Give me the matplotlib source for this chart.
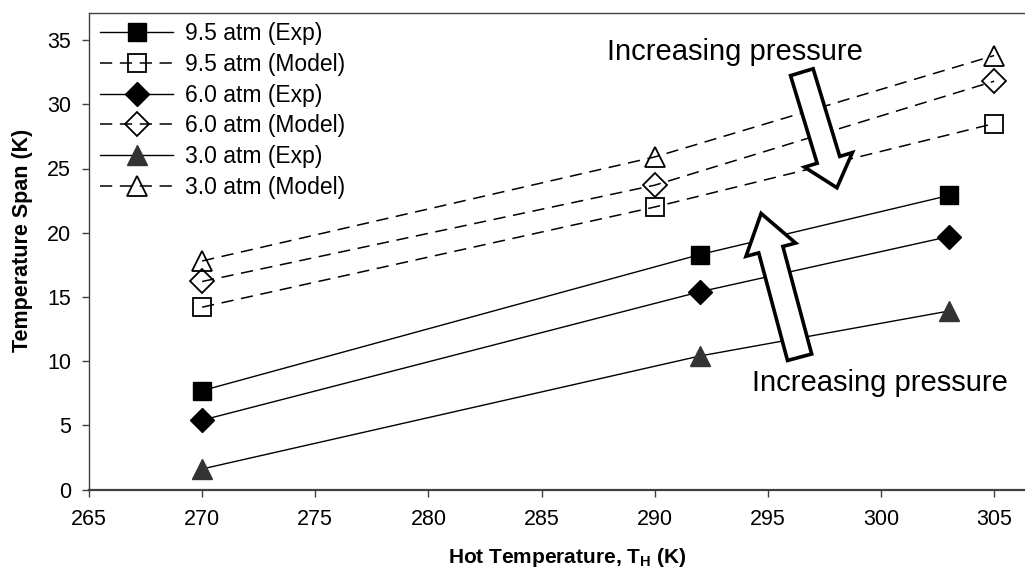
import matplotlib
matplotlib.use('Agg')
import matplotlib.pyplot as plt
from matplotlib.patches import FancyArrowPatch
from matplotlib.patches import ArrowStyle

# ---------------- data ----------------
temps_exp = [270, 292, 303]
temps_model = [270, 290, 305]
exp_95 = [7.7, 18.3, 22.9]
exp_60 = [5.4, 15.4, 19.7]
exp_30 = [1.6, 10.4, 13.9]
model_95 = [14.2, 22.0, 28.5]
model_60 = [16.2, 23.7, 31.8]
model_30 = [17.8, 25.9, 33.8]
series_labels = ['9.5 atm (Exp)', '9.5 atm (Model)', '6.0 atm (Exp)',
                 '6.0 atm (Model)', '3.0 atm (Exp)', '3.0 atm (Model)']
xticks = [265, 270, 275, 280, 285, 290, 295, 300, 305]
yticks = [0, 5, 10, 15, 20, 25, 30, 35]
annot_text = 'Increasing pressure'
xlabel = 'Hot Temperature, T$_\\mathregular{H}$ (K)'
ylabel = 'Temperature Span (K)'

# ---------------- figure ----------------
plt.rcParams['font.family'] = ['Liberation Sans', 'DejaVu Sans']
plt.rcParams['mathtext.fontset'] = 'custom'
plt.rcParams['mathtext.rm'] = 'Liberation Sans:bold'
W, H = 1025, 574
fig = plt.figure(figsize=(W / 100, H / 100), dpi=100)

left, right, top, bottom = 89, 1025, 13, 489.5
ax = fig.add_axes([left / W, 1 - bottom / H, (right - left) / W, (bottom - top) / H])
px_per_x = 22.63
px_per_y = 12.84
ax.set_xlim(265, 265 + (right - left) / px_per_x)
ax.set_ylim(0, (bottom - top) / px_per_y)

solid = dict(color='black', lw=1.0, ls='-')
dash = dict(color='black', lw=1.1, ls=(0, (8, 5)))
mew = 1.3

l1, = ax.plot(temps_exp, exp_95, marker='s', ms=13.5, mfc='black', mec='black', **solid)
l2, = ax.plot(temps_model, model_95, marker='s', ms=13, mfc='none', mec='black', mew=mew, **dash)
l3, = ax.plot(temps_exp, exp_60, marker='D', ms=12.5, mfc='black', mec='black', **solid)
l4, = ax.plot(temps_model, model_60, marker='D', ms=12, mfc='none', mec='black', mew=mew, **dash)
l5, = ax.plot(temps_exp, exp_30, marker='^', ms=14.5, mfc='#333333', mec='#333333', **solid)
l6, = ax.plot(temps_model, model_30, marker='^', ms=14, mfc='none', mec='black', mew=mew, **dash)
for l in (l1, l2, l3, l4, l5, l6):
    l.set_clip_on(False)

# legend
leg = fig.legend([l1, l2, l3, l4, l5, l6], series_labels,
                 loc='upper left', bbox_to_anchor=(100 / W, 1 - 22 / H),
                 frameon=False, fontsize=16.5, borderpad=0, borderaxespad=0,
                 handlelength=3.2, handletextpad=0.5, labelspacing=0.34, numpoints=1)

# spines / ticks
for s in ('left', 'top'):
    ax.spines[s].set_color('#404040')
    ax.spines[s].set_linewidth(1.0)
ax.spines['bottom'].set_color('#404040')
ax.spines['bottom'].set_linewidth(1.6)
ax.spines['right'].set_visible(False)
ax.set_xticks(xticks)
ax.set_yticks(yticks)
ax.tick_params(axis='both', direction='out', length=5, width=1, color='#404040',
               labelsize=15.5, labelcolor='black')
ax.tick_params(axis='x', pad=9)
ax.tick_params(axis='y', pad=8)

# axis titles
fig.text(567 / W, 1 - 563 / H, xlabel, ha='center', va='baseline',
         fontsize=15, fontweight='bold')
fig.text(23 / W, 1 - 240 / H, ylabel, ha='center', va='center', rotation=90,
         fontsize=15.5, fontweight='bold')

# annotations
ax.text(293.55, 34.1, annot_text, ha='center', va='center', fontsize=21)
ax.text(299.95, 8.3, annot_text, ha='center', va='center', fontsize=21)

arrow1 = FancyArrowPatch((296.5, 32.5), (298.05, 23.5),
                         arrowstyle=ArrowStyle.Simple(head_length=21, head_width=36, tail_width=17),
                         mutation_scale=1, shrinkA=0, shrinkB=0,
                         fc='white', ec='black', lw=2.6, zorder=5, joinstyle='miter')
arrow2 = FancyArrowPatch((296.4, 10.3), (294.7, 21.5),
                         arrowstyle=ArrowStyle.Simple(head_length=27, head_width=37, tail_width=18),
                         mutation_scale=1, shrinkA=0, shrinkB=0,
                         fc='white', ec='black', lw=2.6, zorder=5, joinstyle='miter')
ax.add_patch(arrow1)
ax.add_patch(arrow2)

fig.savefig('out.png', dpi=100)
